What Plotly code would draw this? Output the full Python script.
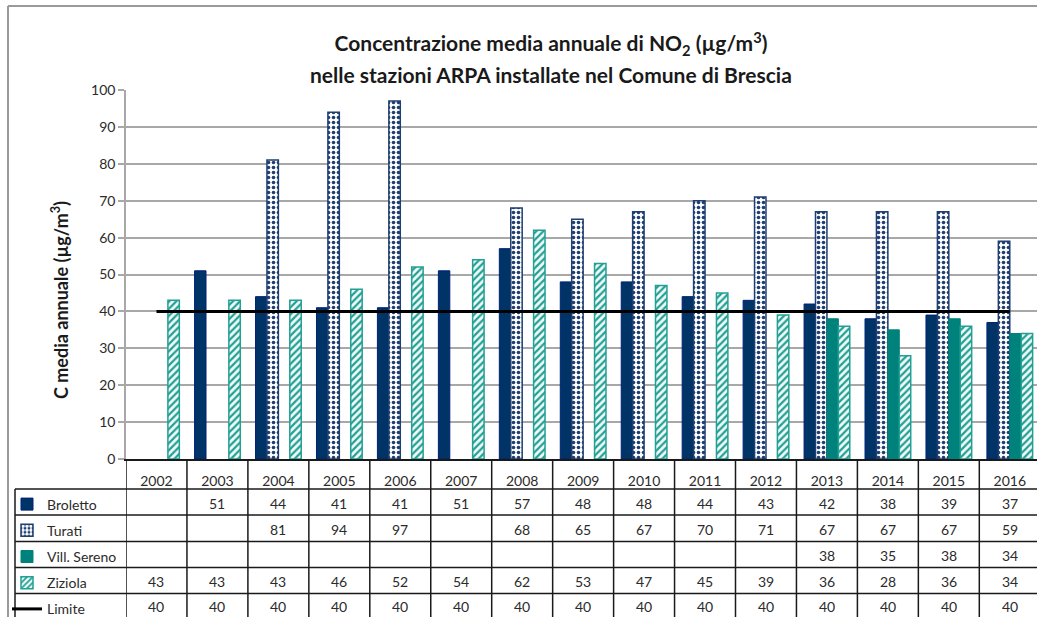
import plotly.graph_objects as go

# Annual mean NO2 concentration (µg/m³) at the ARPA stations in Brescia
years = [str(y) for y in range(2002, 2017)]
broletto = [None, 51, 44, 41, 41, 51, 57, 48, 48, 44, 43, 42, 38, 39, 37]
turati = [None, None, 81, 94, 97, None, 68, 65, 67, 70, 71, 67, 67, 67, 59]
vill_sereno = [None, None, None, None, None, None, None, None, None, None, None, 38, 35, 38, 34]
ziziola = [43, 43, 43, 46, 52, 54, 62, 53, 47, 45, 39, 36, 28, 36, 34]
limite = [40] * 15

series_names = ["Broletto", "Turati", "Vill. Sereno", "Ziziola", "Limite"]
table_rows = [broletto, turati, vill_sereno, ziziola, limite]

W, H = 1037, 617
L, R, T, B = 126, 0, 90, 158
PW, PH = W - L - R, H - T - B
FONT = "Lato"
TXT = "#2b2b2b"
TABLE_FS = 14

xs = list(range(len(years)))


def px_x(p):
    """pixel x -> paper x"""
    return (p - L) / PW


def px_y(p):
    """pixel y -> paper y"""
    return (H - B - p) / PH


fig = go.Figure()

fig.add_trace(go.Bar(
    x=xs, y=broletto, name=series_names[0], legendgroup="a",
    marker=dict(color="#003366", line=dict(color="#00207a", width=1)),
))
fig.add_trace(go.Bar(
    x=xs, y=turati, name=series_names[1], legendgroup="b",
    marker=dict(color="white", line=dict(color="#1f3f72", width=1.5),
                pattern=dict(shape=".", fgcolor="#1f3f72", bgcolor="white",
                             size=5, solidity=0.42, fillmode="replace")),
))
fig.add_trace(go.Bar(
    x=xs, y=vill_sereno, name=series_names[2], legendgroup="c",
    marker=dict(color="#00827c", line=dict(color="#00827c", width=1)),
))
fig.add_trace(go.Bar(
    x=xs, y=ziziola, name=series_names[3], legendgroup="d",
    marker=dict(color="white", line=dict(color="#22a094", width=1.5),
                pattern=dict(shape="/", fgcolor="#22a094", bgcolor="#f2faf9",
                             size=5, solidity=0.45, fillmode="replace")),
))
fig.add_trace(go.Scatter(
    x=xs, y=limite, name=series_names[4], legendgroup="e", mode="lines",
    line=dict(color="black", width=3),
))

# data table below the plot
row_edges = [489, 515, 541.5, 567.5, 593.5, 617]
annotations = []
for r, vals in enumerate(table_rows):
    yc = (row_edges[r] + row_edges[r + 1]) / 2 + 1
    for i, v in enumerate(vals):
        if v is None:
            continue
        annotations.append(dict(
            x=i, y=px_y(yc), xref="x", yref="paper", text=str(v),
            showarrow=False, font=dict(family=FONT, size=TABLE_FS, color=TXT),
            xanchor="center", yanchor="middle"))

# second title line
annotations.append(dict(
    x=px_x(551), y=px_y(74), xref="paper", yref="paper",
    text="<b>nelle stazioni ARPA installate nel Comune di Brescia</b>",
    showarrow=False, font=dict(family=FONT, size=21, color="#1a1a1a"),
    xanchor="center", yanchor="middle"))
# y axis title
annotations.append(dict(
    x=px_x(60), y=px_y(300), xref="paper", yref="paper",
    text="<b>C media annuale (µg/m<sup>3</sup>)</b>", textangle=-90,
    showarrow=False, font=dict(family=FONT, size=18, color="#1a1a1a"),
    xanchor="center", yanchor="middle"))

shapes = []
bottom = px_y(H + 2)
# column separators of the table
for k in range(len(years) + 1):
    shapes.append(dict(type="line", xref="x", yref="paper",
                       x0=k - 0.5, x1=k - 0.5, y0=0, y1=bottom,
                       line=dict(color="#1a1a1a", width=1.5)))
# legend column left border
shapes.append(dict(type="line", xref="paper", yref="paper",
                   x0=px_x(15), x1=px_x(15), y0=px_y(489), y1=bottom,
                   line=dict(color="#1a1a1a", width=1.5)))
# row separators
for yy in row_edges[:-1]:
    shapes.append(dict(type="line", xref="paper", yref="paper",
                       x0=px_x(15), x1=1.01, y0=px_y(yy), y1=px_y(yy),
                       line=dict(color="#1a1a1a", width=1.5)))
# outer chart frame
shapes.append(dict(type="line", xref="paper", yref="paper",
                   x0=px_x(8), x1=px_x(8), y0=px_y(6), y1=bottom,
                   line=dict(color="#9a9a9a", width=2)))
shapes.append(dict(type="line", xref="paper", yref="paper",
                   x0=px_x(8), x1=1.01, y0=px_y(6), y1=px_y(6),
                   line=dict(color="#9a9a9a", width=2)))

fig.update_layout(
    width=W, height=H,
    margin=dict(l=L, r=R, t=T, b=B, pad=0, autoexpand=False),
    paper_bgcolor="white", plot_bgcolor="white",
    barmode="group", bargap=0.25, bargroupgap=0,
    font=dict(family=FONT, size=13, color=TXT),
    title=dict(text="<b>Concentrazione media annuale di NO<sub>2</sub> (µg/m<sup>3</sup>)</b>",
               x=551 / W, xanchor="center",
               y=1 - 44 / H, yanchor="middle", yref="container",
               font=dict(family=FONT, size=21, color="#1a1a1a")),
    showlegend=True,
    legend=dict(x=px_x(7), y=px_y(488.5), xanchor="left", yanchor="top",
                xref="paper", yref="paper", orientation="v",
                traceorder="grouped", tracegroupgap=5,
                bgcolor="rgba(0,0,0,0)",
                font=dict(family=FONT, size=TABLE_FS, color=TXT),
                itemwidth=30),
    annotations=annotations,
    shapes=shapes,
)

fig.update_xaxes(
    range=[-0.5, -0.5 + PW / 60.95], tickmode="array", tickvals=xs, ticktext=years,
    ticks="", showgrid=False, zeroline=False,
    showline=True, linecolor="#1a1a1a", linewidth=1.5,
    ticklabelstandoff=8, tickfont=dict(family=FONT, size=TABLE_FS, color=TXT),
)
fig.update_yaxes(
    range=[0, 100], dtick=10, showgrid=True, gridcolor="#a8a8a8", gridwidth=1.5,
    zeroline=False, showline=True, linecolor="#a8a8a8", linewidth=1.5,
    ticks="outside", ticklen=6, tickcolor="#a8a8a8", tickwidth=1.5,
    tickfont=dict(family=FONT, size=14, color=TXT),
)

fig.write_html("out.html")
